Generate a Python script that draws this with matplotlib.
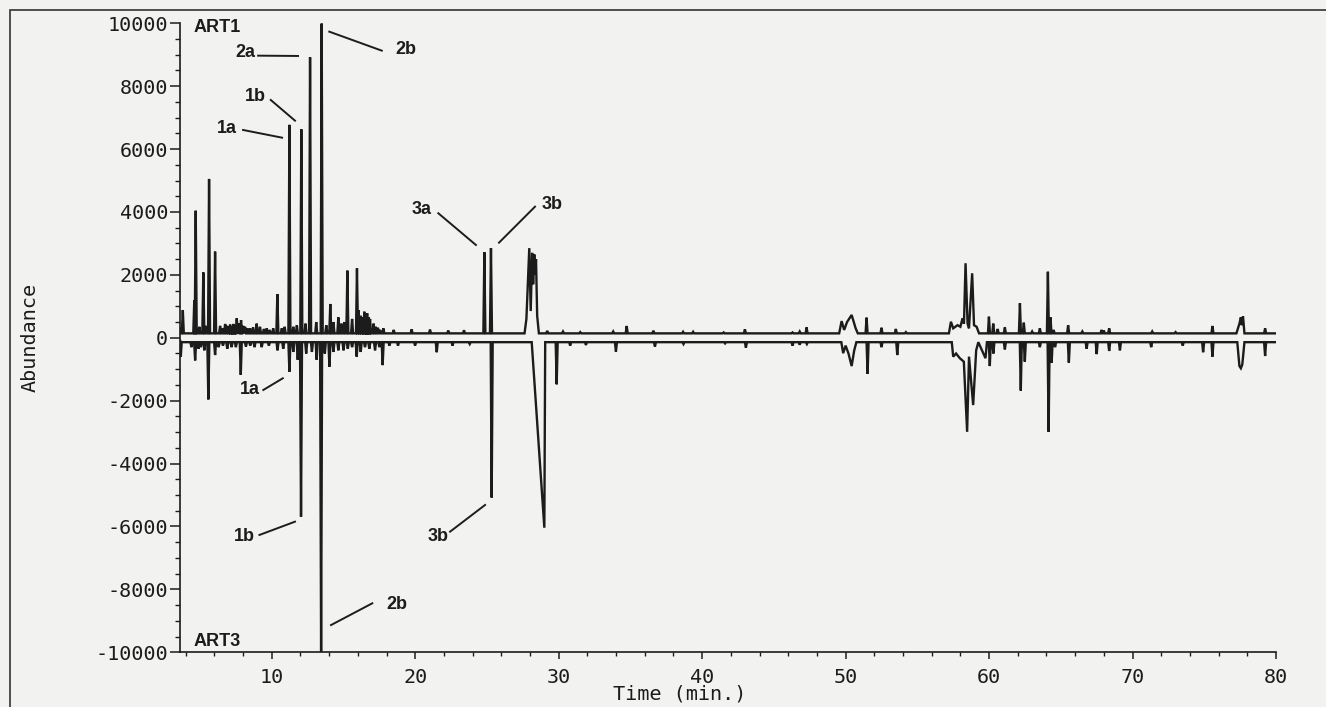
import matplotlib

matplotlib.use("Agg")
import matplotlib.pyplot as plt
from matplotlib.patches import Rectangle
from matplotlib.ticker import MultipleLocator

# ---- data (time in min, abundance) ----
# ART1, upper trace: narrow peaks
art1_peak_time = [3.80, 4.60, 4.70, 4.95, 5.23, 5.40, 5.63, 6.05, 6.40, 6.55, 6.75, 6.90,
                  7.10, 7.20, 7.33, 7.45, 7.56, 7.70, 7.86, 8.00, 8.14, 8.30, 8.49, 8.70,
                  8.95, 9.18, 9.45, 9.65, 9.85, 10.10, 10.39, 10.70, 10.90, 11.23, 11.50,
                  11.75, 12.06, 12.35, 12.67, 13.10, 13.48, 13.80, 14.08, 14.30, 14.64,
                  14.85, 15.05, 15.27, 15.60, 15.94, 16.05, 16.20, 16.30, 16.45, 16.55,
                  16.65, 16.75, 16.85, 17.10, 17.25, 17.40, 17.55, 17.78, 18.50, 19.75,
                  21.03, 22.30, 23.40, 24.82, 25.28, 29.20, 30.30, 31.50, 33.80, 34.74,
                  36.60, 38.67, 39.37, 41.50, 42.98, 46.30, 46.80, 47.28, 51.46, 52.50,
                  53.50, 54.20, 59.99, 60.29, 60.60, 61.10, 62.15, 62.42, 63.00, 63.54,
                  64.10, 64.28, 64.50, 65.51, 66.50, 67.84, 68.00, 68.37, 71.37, 73.00,
                  75.57, 79.24]
art1_peak_abund = [880, 1200, 4040, 350, 2080, 380, 5050, 2740, 380, 300, 440, 380,
                   420, 350, 440, 400, 620, 450, 560, 380, 350, 300, 300, 330,
                   450, 350, 280, 300, 250, 300, 1390, 300, 350, 6770, 350,
                   400, 6630, 450, 8920, 500, 9990, 400, 1075, 500, 650,
                   450, 500, 2135, 600, 2210, 880, 700, 650, 830, 700,
                   780, 650, 600, 450, 350, 320, 250, 300, 250, 270,
                   260, 230, 240, 2720, 2850, 220, 200, 180, 200, 375,
                   225, 190, 190, 170, 270, 170, 200, 330, 640, 320,
                   280, 180, 670, 450, 280, 330, 1100, 480, 200, 300,
                   2100, 650, 250, 400, 200, 250, 230, 300, 200, 180,
                   375, 300]
# ART1 broad / overlapping features
art1_shape_time = [[3.62, 3.66],
                   [27.62, 27.75, 27.95, 28.05, 28.15, 28.22, 28.30, 28.36, 28.42, 28.50, 28.62],
                   [49.55, 49.72, 49.90, 50.10, 50.42, 50.70, 50.85],
                   [57.20, 57.34, 57.50, 57.80, 58.00, 58.15, 58.25, 58.36, 58.50, 58.60,
                    58.82, 58.95, 59.13, 59.30],
                   [77.24, 77.45, 77.55, 77.62, 77.70, 77.80],
                   [80.00]]
art1_shape_abund = [[300, 140],
                    [140, 600, 2850, 850, 2700, 1700, 2650, 2000, 2500, 700, 140],
                    [140, 530, 250, 500, 725, 300, 140],
                    [140, 510, 300, 400, 350, 620, 450, 2370, 450, 300,
                     2050, 400, 350, 140],
                    [140, 450, 650, 400, 680, 140],
                    [140]]

# ART3, lower (inverted) trace: narrow peaks
art3_peak_time = [4.40, 4.66, 4.90, 5.05, 5.30, 5.58, 6.05, 6.30, 6.60, 6.90, 7.20, 7.50,
                  7.84, 8.20, 8.50, 8.80, 9.30, 9.80, 10.40, 10.80, 11.23, 11.50, 11.81,
                  12.04, 12.40, 12.80, 13.13, 13.44, 13.70, 14.02, 14.30, 14.64, 15.00,
                  15.30, 15.60, 15.92, 16.20, 16.50, 16.80, 17.20, 17.50, 17.73, 18.20,
                  18.80, 19.99, 21.50, 22.60, 23.80, 25.33, 29.86, 30.80, 31.90, 33.99,
                  36.71, 38.70, 41.60, 43.05, 46.30, 46.80, 47.30, 51.53, 52.50, 53.60,
                  60.05, 60.30, 61.10, 62.21, 62.49, 63.54, 64.15, 64.36, 64.60, 65.56,
                  66.80, 67.50, 68.37, 69.12, 71.30, 73.50, 74.92, 75.57, 79.24]
art3_peak_abund = [-300, -720, -350, -300, -400, -1960, -550, -300, -250, -350, -300, -300,
                   -1180, -280, -250, -300, -300, -250, -400, -350, -1080, -450, -700,
                   -5690, -500, -450, -700, -9990, -500, -920, -450, -400, -400,
                   -350, -300, -600, -450, -300, -350, -400, -300, -870, -250,
                   -250, -250, -460, -250, -200, -5080, -1480, -250, -230, -440,
                   -280, -200, -180, -315, -250, -220, -200, -1150, -300, -550,
                   -900, -500, -370, -1680, -760, -300, -2990, -800, -300, -790,
                   -350, -520, -420, -400, -300, -250, -460, -600, -580]
# ART3 broad / overlapping features
art3_shape_time = [[3.62, 3.66, 3.72],
                   [28.12, 29.00, 29.06],
                   [49.70, 49.83, 50.00, 50.20, 50.42, 50.60, 50.75],
                   [57.40, 57.50, 57.70, 57.96, 58.24, 58.47, 58.60, 58.89, 59.10, 59.25,
                    59.75, 59.85],
                   [77.30, 77.45, 77.55, 77.65, 77.80],
                   [80.00]]
art3_shape_abund = [[-100, -600, -140],
                    [-140, -6040, -140],
                    [-140, -490, -250, -500, -900, -400, -140],
                    [-140, -600, -500, -650, -760, -2990, -600, -2140, -400, -140,
                     -650, -140],
                    [-140, -900, -970, -850, -140],
                    [-140]]

art1_base = 140
art3_base = -140

tick_values = list(range(-10000, 10001, 2000))
time_ticks = list(range(10, 81, 10))

# ---- drawing ----
INK = "#1c1c1c"
PAPER = "#f2f2f0"
HALF_WIDTH = 0.07


def build_trace(peak_t, peak_v, shape_t, shape_v, base):
    pieces = []
    for t, v in zip(peak_t, peak_v):
        pieces.append(([t - HALF_WIDTH, t, t + HALF_WIDTH], [base, v, base]))
    for ts, vs in zip(shape_t, shape_v):
        pieces.append((list(ts), list(vs)))
    pieces.sort(key=lambda p: p[0][0])
    xs, ys = [], []
    for ts, vs in pieces:
        xs += ts
        ys += vs
    return xs, ys


plt.rcParams["axes.unicode_minus"] = False
fig = plt.figure(figsize=(13.26, 7.07), dpi=100, facecolor=PAPER)
ax = fig.add_axes([0.1357, 0.0774, 0.8266, 0.8897])
ax.set_facecolor(PAPER)

for args in [(art1_peak_time, art1_peak_abund, art1_shape_time, art1_shape_abund, art1_base),
             (art3_peak_time, art3_peak_abund, art3_shape_time, art3_shape_abund, art3_base)]:
    xs, ys = build_trace(*args)
    ax.plot(xs, ys, color=INK, lw=1.7, solid_joinstyle="miter")

ax.set_xlim(3.6, 80.0)
ax.set_ylim(-10000, 10000)

for side in ["top", "right"]:
    ax.spines[side].set_visible(False)
for side in ["left", "bottom"]:
    ax.spines[side].set_color(INK)
    ax.spines[side].set_linewidth(1.2)

mono = "DejaVu Sans Mono"
ax.set_yticks(tick_values)
ax.set_yticklabels([str(v) for v in tick_values], family=mono, fontsize=14.5)
ax.yaxis.set_minor_locator(MultipleLocator(500))
ax.set_xticks(time_ticks)
ax.set_xticklabels([str(v) for v in time_ticks], family=mono, fontsize=14.5)
ax.xaxis.set_minor_locator(MultipleLocator(2))
ax.tick_params(axis="y", which="major", direction="out", length=7, width=1.1, pad=1.5, colors=INK)
ax.tick_params(axis="y", which="minor", direction="out", length=3.5, width=1.0, colors=INK)
ax.tick_params(axis="x", which="major", direction="out", length=5, width=1.1, pad=6, colors=INK)
ax.tick_params(axis="x", which="minor", direction="out", length=3, width=1.0, colors=INK)

ax.set_xlabel("Time (min.)", family=mono, fontsize=14.5, color=INK)
ax.xaxis.set_label_coords(0.456, -0.052)
ax.set_ylabel("Abundance", family=mono, fontsize=14.5, color=INK)
ax.yaxis.set_label_coords(-0.128, 0.5)

# peak labels: (text, x, y, ha, leader line x0, y0, x1, y1)
bold = dict(family=["Liberation Sans", "DejaVu Sans"], fontweight="bold", fontsize=13, color=INK, va="center")
ax.text(4.52, 9880, "ART1", ha="left", **bold)
ax.text(4.52, -9660, "ART3", ha="left", **bold)
labels = [
    ("2a", 8.84, 9065, "right", 9.05, 8970, 11.83, 8960),
    ("1b", 9.58, 7666, "right", 9.93, 7561, 11.62, 6903),
    ("1a", 7.60, 6661, "right", 8.00, 6607, 10.72, 6362),
    ("2b", 18.59, 9151, "left", 14.01, 9733, 17.67, 9129),
    ("3a", 21.15, 4086, "right", 21.61, 3959, 24.23, 2951),
    ("3b", 28.82, 4223, "left", 28.35, 4169, 25.84, 3024),
    ("1a", 9.18, -1660, "right", 9.41, -1660, 10.77, -1288),
    ("1b", 8.84, -6324, "right", 9.14, -6270, 11.62, -5847),
    ("2b", 18.01, -8496, "left", 14.13, -9135, 17.01, -8442),
    ("3b", 22.31, -6324, "right", 22.43, -6165, 24.87, -5316),
]
for text, tx, ty, ha, x0, y0, x1, y1 in labels:
    ax.text(tx, ty, text, ha=ha, **bold)
    ax.plot([x0, x1], [y0, y1], color=INK, lw=1.4)

# scanned page frame
fig.patches.append(Rectangle((0.0075, -0.02), 1.1, 1.0059, transform=fig.transFigure,
                             fill=False, edgecolor="#333333", lw=1.2))

fig.savefig("out.png", dpi=100, facecolor=PAPER)
